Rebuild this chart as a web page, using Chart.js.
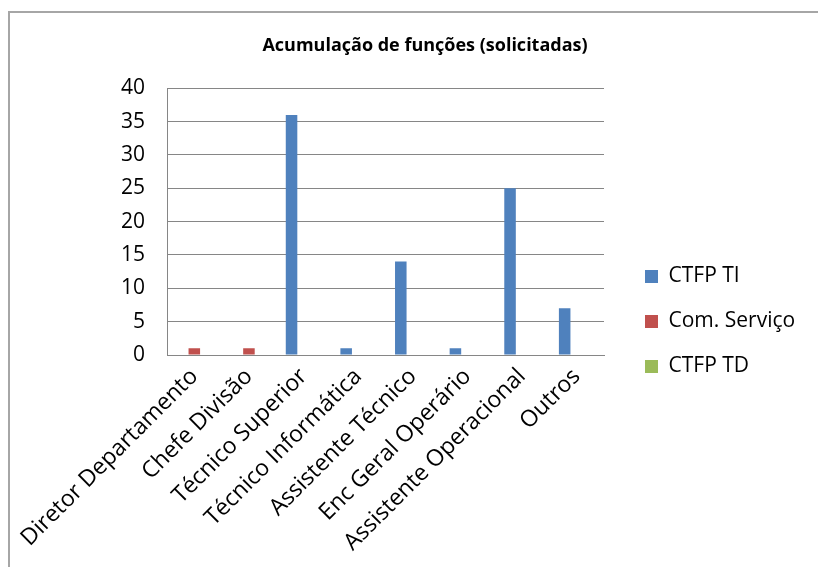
<!DOCTYPE html>
<html>
<head>
<meta charset="utf-8">
<script src="https://cdn.jsdelivr.net/npm/chart.js@4.4.1/dist/chart.umd.min.js"></script>
<style>
  body { margin: 0; width: 818px; height: 567px; overflow: hidden; background: #fff; position: relative; }
  #frame { position: absolute; left: 8px; top: 11px; width: 900px; height: 700px; border: 2px solid #a6a6a6; }
  #myChart { position: absolute; left: 0; top: 0; }
</style>
</head>
<body>
<div id="frame"></div>
<canvas id="myChart" width="818" height="567"></canvas>
<script>
const ctx = document.querySelector('#myChart').getContext('2d');

// Categories (job functions)
const labels = [
    'Diretor Departamento',
    'Chefe Divisão',
    'Técnico Superior',
    'Técnico Informática',
    'Assistente Técnico',
    'Enc Geral Operário',
    'Assistente Operacional',
    'Outros',
];

// Series values
const ctfpTI = [0, 0, 36, 1, 14, 1, 25, 7];
const comServico = [1, 1, 0, 0, 0, 0, 0, 0];
const ctfpTD = [0, 0, 0, 0, 0, 0, 0, 0];

// Y axis ticks
const yTicks = [0, 5, 10, 15, 20, 25, 30, 35, 40];

const font = "'Open Sans', 'DejaVu Sans', sans-serif";

// move the legend block down/right, like the Excel layout
const legendShift = {
    id: 'legendShift',
    afterLayout(chart) {
        const lg = chart.legend;
        lg.left += 17;
        lg.right += 17;
        lg.top += 38;
        lg.bottom += 38;
    },
};

const data = {
    labels,
    datasets: [
        { label: 'CTFP TI', data: ctfpTI, backgroundColor: '#4F81BD' },
        { label: 'Com. Serviço', data: comServico, backgroundColor: '#C0504D' },
        { label: 'CTFP TD', data: ctfpTD, backgroundColor: '#9BBB59' },
    ],
};

const config = {
    type: 'bar',
    data: data,
    plugins: [legendShift],
    options: {
        responsive: false,
        animation: false,
        categoryPercentage: 0.66,
        barPercentage: 0.96,
        layout: { padding: { left: 66, right: 34, top: 0, bottom: 0 } },
        plugins: {
            tooltip: { enabled: false },
            title: {
                display: true,
                text: 'Acumulação de funções (solicitadas)',
                color: '#000',
                font: { family: font, size: 18, weight: 'bold' },
                padding: { top: 35, bottom: 31.6 },
            },
            legend: {
                position: 'right',
                maxWidth: 180,
                labels: {
                    color: '#000',
                    font: { family: font, size: 21 },
                    boxWidth: 13,
                    boxHeight: 13,
                    padding: 24,
                },
            },
        },
        scales: {
            x: {
                grid: { display: false },
                border: { color: '#868686', width: 1 },
                ticks: {
                    color: '#000',
                    font: { family: font, size: 23 },
                    minRotation: 45,
                    maxRotation: 45,
                    autoSkip: false,
                    padding: 0,
                },
                afterFit: (scale) => { scale.height = 212; },
            },
            y: {
                min: 0,
                max: 40,
                afterBuildTicks: (scale) => { scale.ticks = yTicks.map(v => ({ value: v })); },
                grid: { color: '#868686', drawTicks: false },
                border: { color: '#868686', width: 1 },
                ticks: {
                    color: '#000',
                    font: { family: font, size: 21 },
                    padding: 22,
                },
                afterFit: (scale) => { scale.width = 101; },
            },
        },
    },
};

const myChart = new Chart(ctx, config);
</script>
</body>
</html>
